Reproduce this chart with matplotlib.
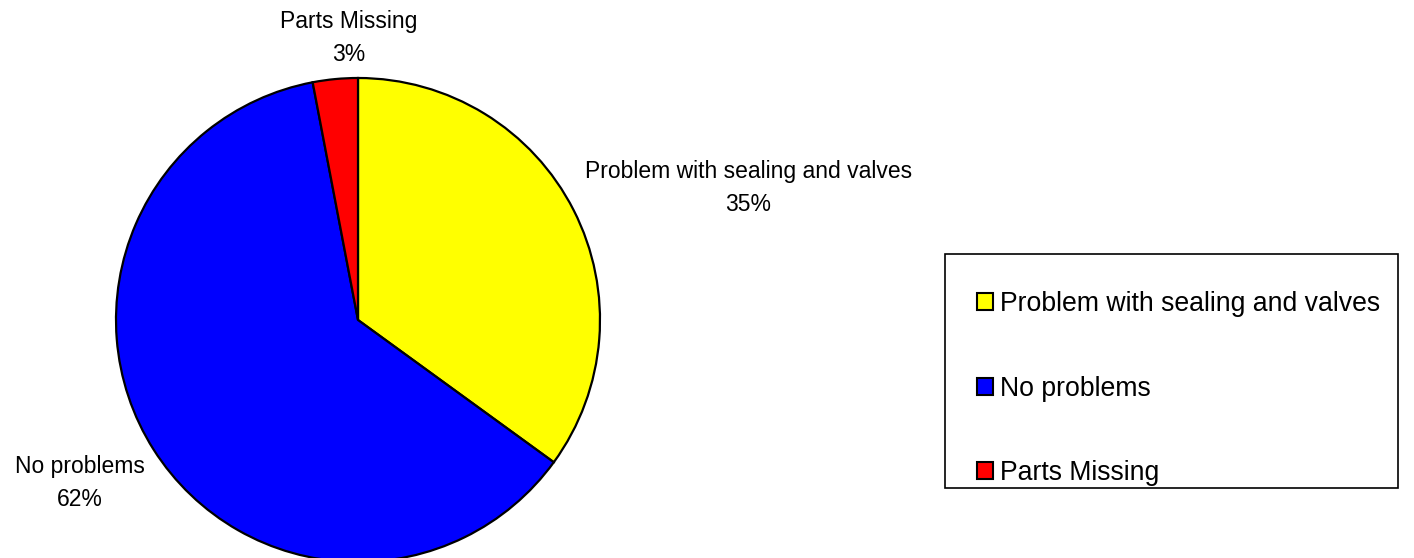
import matplotlib.pyplot as plt
from matplotlib.patches import Rectangle, Patch

plt.rcParams['font.family'] = ['Liberation Sans', 'DejaVu Sans']

# dane
categories = ['Problem with sealing and valves', 'No problems', 'Parts Missing']
shares = [35, 62, 3]
colors = ['#FFFF00', '#0000FF', '#FF0000']

# pozycje etykiet (w jednostkach promienia kola)
label_pos = [(1.612, 0.545), (-1.149, -0.675), (-0.037, 1.165)]

W, H = 1414, 558
fig = plt.figure(figsize=(W / 100, H / 100), dpi=100)

cx, cy, r = 358, 320, 242
ax = fig.add_axes([(cx - r) / W, (H - cy - r) / H, 2 * r / W, 2 * r / H])
ax.pie(shares, colors=colors, startangle=90, counterclock=False, radius=1,
       wedgeprops=dict(edgecolor='black', linewidth=1.6))
ax.set_xlim(-1, 1)
ax.set_ylim(-1, 1)
ax.set_aspect('equal')
ax.axis('off')

for name, val, (x, y) in zip(categories, shares, label_pos):
    ax.text(x, y, f'{name}\n{val}%', ha='center', va='center', fontsize=16.5,
            linespacing=1.55, clip_on=False)

# ramka legendy
fig.patches.append(Rectangle((945 / W, (H - 488) / H), 453 / W, 234 / H,
                             transform=fig.transFigure, facecolor='white',
                             edgecolor='black', linewidth=1.2))

handles = [Patch(facecolor=c, edgecolor='black', linewidth=1.5) for c in colors]
fig.legend(handles, categories, loc='upper left',
           bbox_to_anchor=(977 / W, (H - 291) / H), frameon=False,
           fontsize=19.2, handlelength=0.6, handleheight=0.6, handletextpad=0.25,
           labelspacing=2.2, borderpad=0, borderaxespad=0)

fig.savefig('out.png', dpi=100)
